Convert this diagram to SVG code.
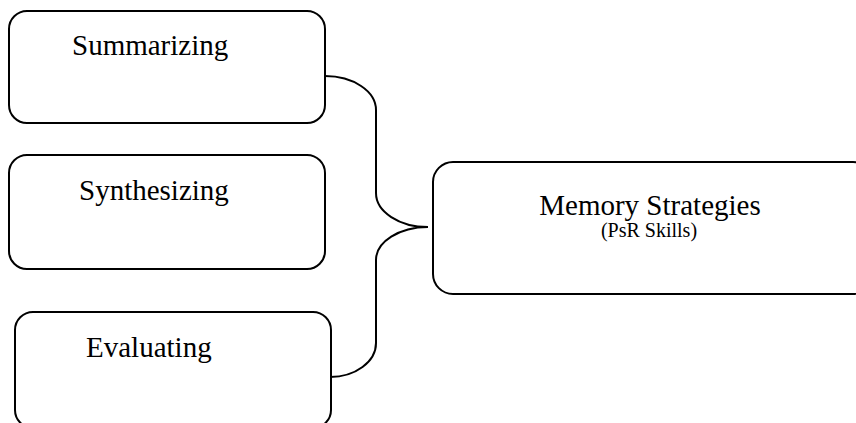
<svg xmlns="http://www.w3.org/2000/svg" width="856" height="423" viewBox="0 0 856 423">
<style>
.box{fill:#fff;stroke:#000;stroke-width:2}
.lbl{font-family:"Liberation Serif","Times New Roman",serif;font-size:29px;fill:#000}
.sub{font-family:"Liberation Serif","Times New Roman",serif;font-size:20px;fill:#000}
.conn{fill:none;stroke:#000;stroke-width:2}
</style>
<rect width="856" height="423" fill="#fff"/>
<g id="connectors">
<path class="conn" d="M325,76 A51,34 0 0 1 376,110 L376,193 A52,34 0 0 0 428,227 A52,33 0 0 0 376,260 L376,343 A46,34 0 0 1 330,377"/>
</g>
<g id="summarizing">
<rect class="box" x="9" y="11" width="316" height="112" rx="18"/>
<text class="lbl" x="72" y="55">Summarizing</text>
</g>
<g id="synthesizing">
<rect class="box" x="9" y="155" width="316" height="114" rx="18"/>
<text class="lbl" x="79" y="200">Synthesizing</text>
</g>
<g id="evaluating">
<rect class="box" x="15" y="312" width="316" height="116" rx="18"/>
<text class="lbl" x="86" y="357">Evaluating</text>
</g>
<g id="memory">
<rect class="box" x="433" y="162" width="440" height="132" rx="20"/>
<text class="lbl" x="650" y="215" text-anchor="middle">Memory Strategies</text>
<text class="sub" x="649" y="237" text-anchor="middle">(PsR Skills)</text>
</g>
</svg>
